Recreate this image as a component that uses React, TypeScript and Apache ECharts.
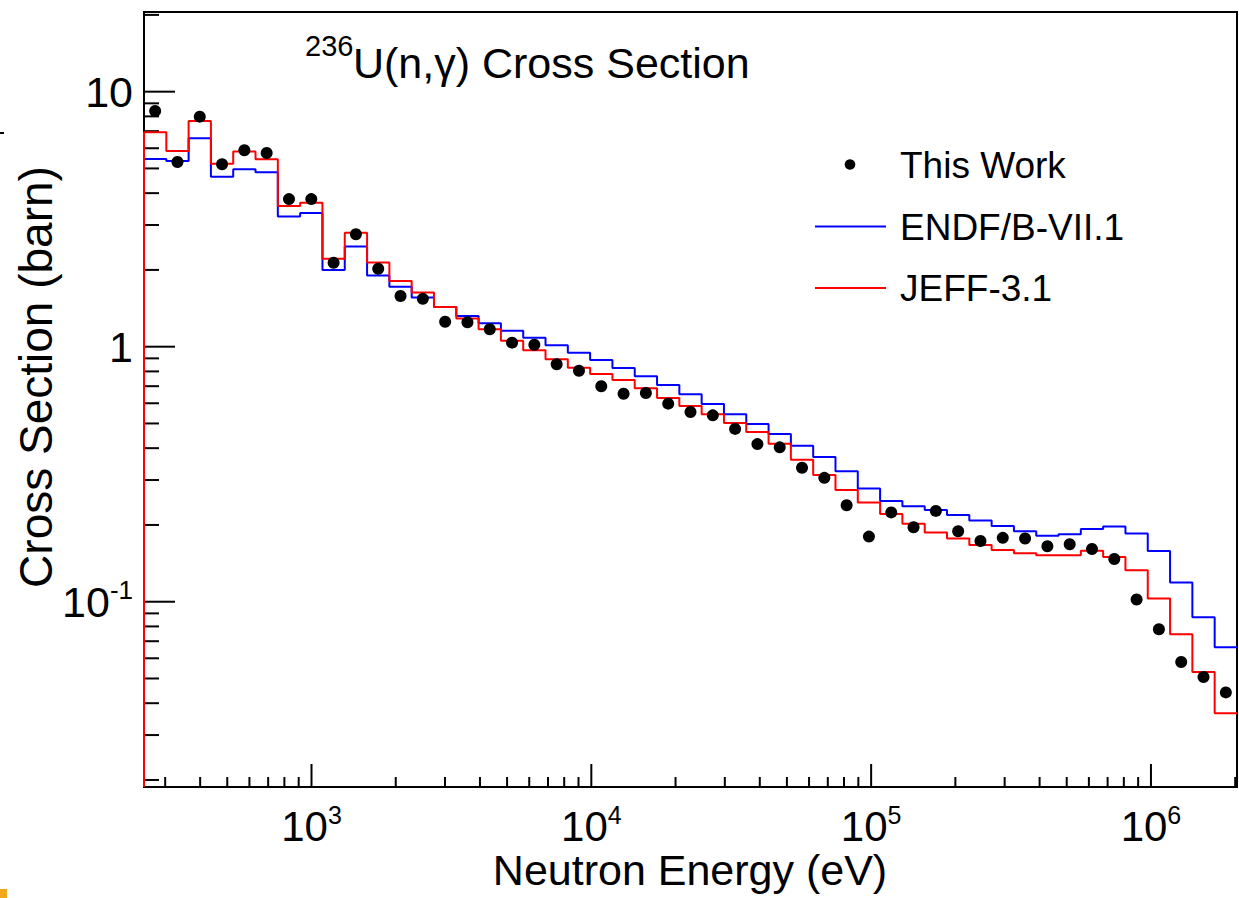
import React, { useEffect, useRef } from 'react';
import * as echarts from 'echarts';

const FONT = "'Liberation Sans', Arial, Helvetica, sans-serif";

// Axis ranges (eV, barn)
const X_MIN = 252;
const X_MAX = 2.03e6;
const Y_MIN = 0.01877;
const Y_MAX = 20.53;

// Histogram bin edges (eV), 49 log-spaced bins
const BIN_EDGES = [
  252, 302.8, 363.8, 437.0, 525.1, 630.9, 758.0, 910.8, 1094.3, 1314.9,
  1579.8, 1898.1, 2280.5, 2740.0, 3292.0, 3955.3, 4752.3, 5709.6, 6860.1, 8242.2,
  9901.9, 11897, 14294, 17174, 20634, 24791, 29786, 35787, 42998, 51660,
  62069, 74575, 89598, 107652, 129338, 155398, 186707, 224317, 269514, 323807,
  389050, 467436, 561606, 674760, 810693, 974040, 1170290, 1406040, 1689370, 2030000,
];

// ENDF/B-VII.1 (barn) per bin
const ENDF = [
  5.45, 5.35, 6.57, 4.64, 4.96, 4.83, 3.24, 3.34, 2.0, 2.47,
  1.9, 1.72, 1.56, 1.43, 1.32, 1.235, 1.156, 1.084, 1.014, 0.947,
  0.887, 0.825, 0.765, 0.7075, 0.6505, 0.596, 0.543, 0.4975, 0.4546, 0.409,
  0.369, 0.325, 0.278, 0.248, 0.237, 0.229, 0.219, 0.208, 0.198, 0.189,
  0.1815, 0.184, 0.193, 0.197, 0.185, 0.158, 0.119, 0.087, 0.0663,
];

// JEFF-3.1 (barn) per bin
const JEFF = [
  6.93, 5.85, 7.68, 5.22, 5.82, 5.43, 3.56, 3.67, 2.21, 2.8,
  2.14, 1.81, 1.63, 1.43, 1.29, 1.17, 1.056, 0.968, 0.893, 0.827,
  0.782, 0.74, 0.687, 0.629, 0.585, 0.543, 0.502, 0.463, 0.4165, 0.36,
  0.314, 0.274, 0.245, 0.221, 0.202, 0.187, 0.177, 0.167, 0.1595, 0.155,
  0.152, 0.152, 0.1585, 0.1497, 0.133, 0.103, 0.0745, 0.053, 0.0365,
];

// This Work (barn) per bin
const THIS_WORK = [
  8.4, 5.3, 7.98, 5.19, 5.89, 5.75, 3.79, 3.79, 2.135, 2.76,
  2.02, 1.58, 1.54, 1.253, 1.246, 1.17, 1.037, 1.018, 0.853, 0.805,
  0.7, 0.654, 0.658, 0.598, 0.5545, 0.538, 0.476, 0.415, 0.403, 0.335,
  0.306, 0.239, 0.18, 0.224, 0.196, 0.227, 0.189, 0.173, 0.178, 0.177,
  0.165, 0.168, 0.161, 0.147, 0.102, 0.078, 0.058, 0.0507, 0.0441,
];

// Tick positions
const X_MAJOR = [1e3, 1e4, 1e5, 1e6];
const X_MINOR = [
  300, 400, 500, 600, 700, 800, 900,
  2000, 3000, 4000, 5000, 6000, 7000, 8000, 9000,
  20000, 30000, 40000, 50000, 60000, 70000, 80000, 90000,
  200000, 300000, 400000, 500000, 600000, 700000, 800000, 900000,
  2000000,
];
const Y_MAJOR = [0.1, 1, 10];
const Y_MINOR = [
  0.02, 0.03, 0.04, 0.05, 0.06, 0.07, 0.08, 0.09,
  0.2, 0.3, 0.4, 0.5, 0.6, 0.7, 0.8, 0.9,
  2, 3, 4, 5, 6, 7, 8, 9, 20,
];

function stepData(vals: number[]) {
  const d: number[][] = [[BIN_EDGES[0], Y_MIN]];
  vals.forEach((v, i) => {
    d.push([BIN_EDGES[i], v]);
    d.push([BIN_EDGES[i + 1], v]);
  });
  return d;
}

function expLabel(v: number) {
  const e = Math.round(Math.log10(v));
  if (e === 0) return '{b|1}';
  if (e === 1) return '{b|10}';
  return `{b|10}{s|${e}}`;
}

export default function App() {
  const ref = useRef<HTMLDivElement>(null);
  useEffect(() => {
    const chart = echarts.init(ref.current!, null, { renderer: 'svg' });
    const centers = THIS_WORK.map((_, i) => Math.sqrt(BIN_EDGES[i] * BIN_EDGES[i + 1]));
    const option: any = {
      animation: false,
      backgroundColor: '#fff',
      grid: {
        left: 144, right: 2, top: 12, bottom: 111,
        show: true, borderColor: '#000', borderWidth: 2, backgroundColor: 'transparent',
      },
      xAxis: {
        type: 'log', logBase: 10, min: X_MIN, max: X_MAX,
        axisLine: { show: true, onZero: false, lineStyle: { color: '#000', width: 2 } },
        axisTick: { show: false },
        splitLine: { show: false },
        minorTick: { show: false },
        axisLabel: {
          margin: 15,
          showMinLabel: false, showMaxLabel: false,
          formatter: expLabel,
          rich: {
            b: { fontSize: 42, fontFamily: FONT, color: '#000', lineHeight: 48, verticalAlign: 'middle' },
            s: { fontSize: 25, fontFamily: FONT, color: '#000', verticalAlign: 'top' },
          },
        },
      },
      yAxis: {
        type: 'log', logBase: 10, min: Y_MIN, max: Y_MAX,
        axisLine: { show: true, onZero: false, lineStyle: { color: '#000', width: 2 } },
        axisTick: { show: false },
        splitLine: { show: false },
        minorTick: { show: false },
        axisLabel: {
          margin: 11,
          showMinLabel: false, showMaxLabel: false,
          formatter: expLabel,
          rich: {
            b: { fontSize: 43, fontFamily: FONT, color: '#000', lineHeight: 50, verticalAlign: 'middle' },
            s: { fontSize: 26, fontFamily: FONT, color: '#000', verticalAlign: 'top' },
          },
        },
      },
      series: [
        {
          type: 'custom', name: 'xticks', silent: true, z: 4,
          data: [...X_MAJOR.map((v) => [v, Y_MIN, 23]), ...X_MINOR.map((v) => [v, Y_MIN, 10])],
          renderItem: (_p: any, api: any) => {
            const pt = api.coord([api.value(0), api.value(1)]);
            const len = api.value(2);
            return {
              type: 'line',
              shape: { x1: pt[0], y1: pt[1], x2: pt[0], y2: pt[1] - len },
              style: { stroke: '#000', lineWidth: 2 },
            };
          },
        },
        {
          type: 'custom', name: 'yticks', silent: true, z: 4,
          data: [...Y_MAJOR.map((v) => [X_MIN, v, 31]), ...Y_MINOR.map((v) => [X_MIN, v, 15])],
          renderItem: (_p: any, api: any) => {
            const pt = api.coord([api.value(0), api.value(1)]);
            const len = api.value(2);
            return {
              type: 'line',
              shape: { x1: pt[0], y1: pt[1], x2: pt[0] + len, y2: pt[1] },
              style: { stroke: '#000', lineWidth: 2 },
            };
          },
        },
        {
          type: 'line', name: 'ENDF/B-VII.1', data: stepData(ENDF),
          showSymbol: false, symbol: 'none', z: 5,
          lineStyle: { color: '#0000ff', width: 2 },
        },
        {
          type: 'line', name: 'JEFF-3.1', data: stepData(JEFF),
          showSymbol: false, symbol: 'none', z: 6,
          lineStyle: { color: '#ff0000', width: 2 },
        },
        {
          type: 'scatter', name: 'This Work', z: 7,
          data: centers.map((c, i) => [c, THIS_WORK[i]]),
          symbol: 'circle', symbolSize: 12,
          itemStyle: { color: '#000', opacity: 1 },
        },
      ],
      graphic: [
        { type: 'text', x: 305, y: 46, style: { text: '236', fontSize: 29, fontFamily: FONT, fill: '#000', align: 'left', verticalAlign: 'middle' } },
        { type: 'text', x: 353, y: 63, style: { text: 'U(n,γ) Cross Section', fontSize: 43, fontFamily: FONT, fill: '#000', align: 'left', verticalAlign: 'middle' } },
        { type: 'circle', shape: { cx: 850, cy: 164.5, r: 5.3 }, style: { fill: '#000' } },
        { type: 'text', x: 900, y: 165, style: { text: 'This Work', fontSize: 37, fontFamily: FONT, fill: '#000', align: 'left', verticalAlign: 'middle' } },
        { type: 'line', shape: { x1: 815, y1: 226.5, x2: 886, y2: 226.5 }, style: { stroke: '#0000ff', lineWidth: 2 } },
        { type: 'text', x: 900, y: 227, style: { text: 'ENDF/B-VII.1', fontSize: 37, fontFamily: FONT, fill: '#000', align: 'left', verticalAlign: 'middle' } },
        { type: 'line', shape: { x1: 815, y1: 288, x2: 886, y2: 288 }, style: { stroke: '#ff0000', lineWidth: 2 } },
        { type: 'text', x: 900, y: 288, style: { text: 'JEFF-3.1', fontSize: 37, fontFamily: FONT, fill: '#000', align: 'left', verticalAlign: 'middle' } },
        { type: 'text', x: 690, y: 870, style: { text: 'Neutron Energy (eV)', fontSize: 43, fontFamily: FONT, fill: '#000', align: 'center', verticalAlign: 'middle' } },
        { type: 'text', x: 36, y: 377, rotation: Math.PI / 2, style: { text: 'Cross Section (barn)', fontSize: 46, fontFamily: FONT, fill: '#000', align: 'center', verticalAlign: 'middle' } },
        { type: 'rect', shape: { x: 0, y: 132, width: 4, height: 2 }, style: { fill: '#000' } },
        { type: 'rect', shape: { x: 0, y: 889, width: 7, height: 9 }, style: { fill: '#f2a81d' } },
      ],
    };
    chart.setOption(option);
    return () => chart.dispose();
  }, []);
  return (
    <div
      ref={ref}
      style={{ position: 'fixed', left: 0, top: 0, width: 1239, height: 898, background: '#fff' }}
    />
  );
}
